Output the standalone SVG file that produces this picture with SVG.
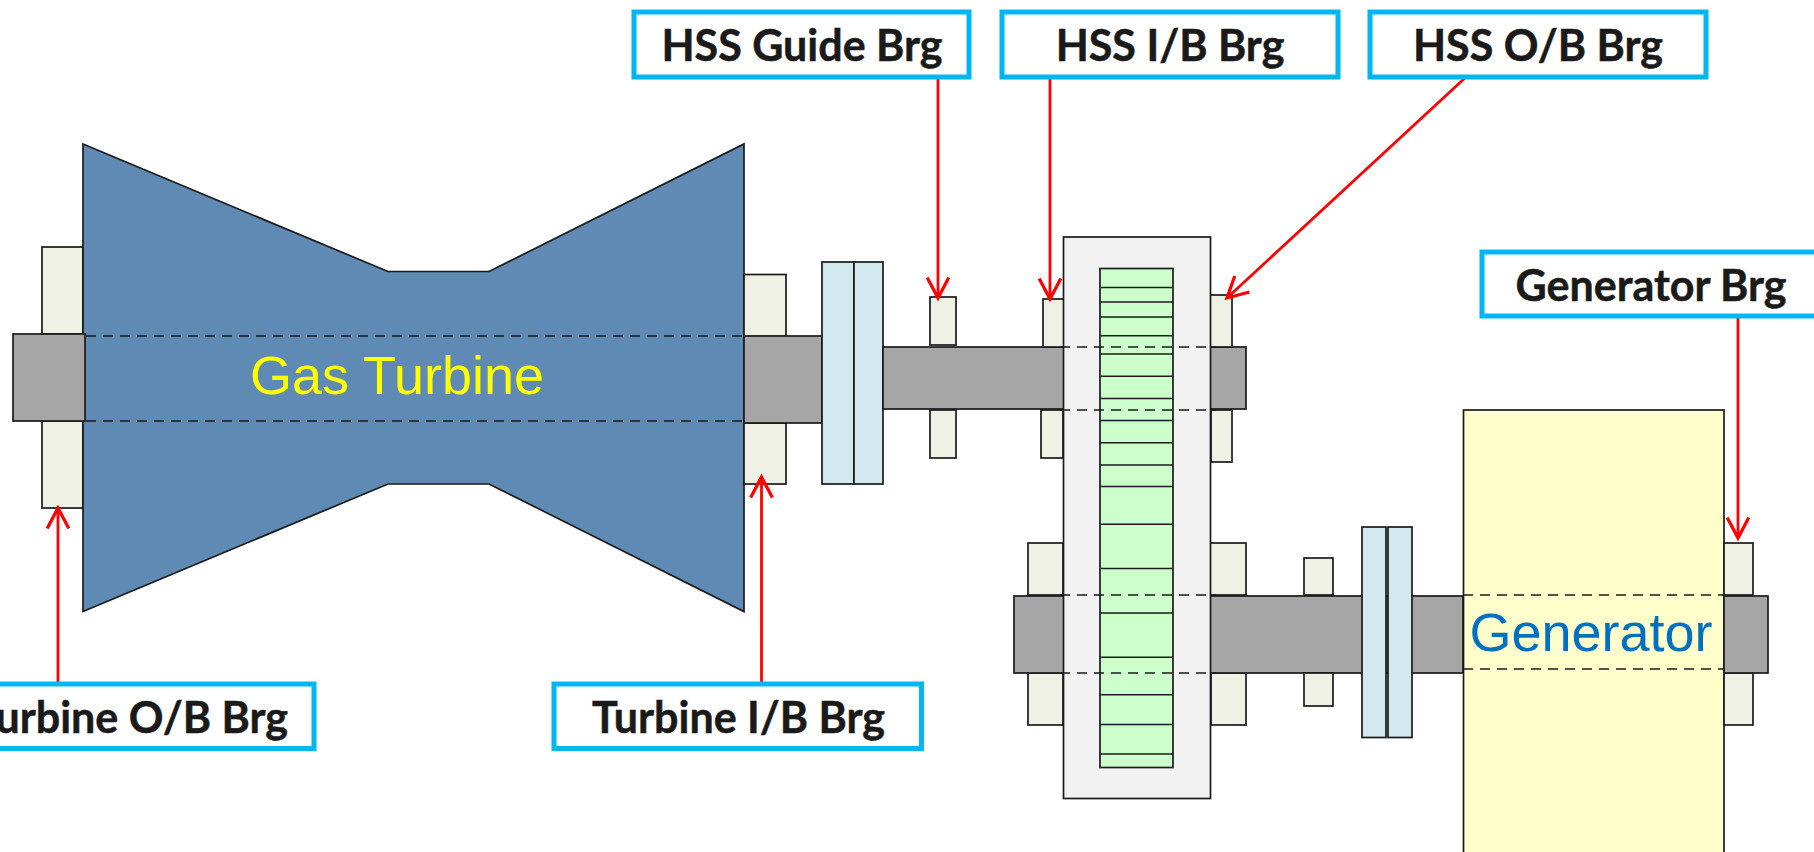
<svg xmlns="http://www.w3.org/2000/svg" width="1814" height="852" viewBox="0 0 1814 852">
<style>
.o{stroke:#1a1a1a;stroke-width:1.7}
.brg{fill:#EEF1E3}.shaft{fill:#A6A6A6}.cpl{fill:#D2E9EF}
.d{stroke:#1a1a1a;stroke-width:1.7;stroke-dasharray:10 7;fill:none}
.g{stroke:#1a1a1a;stroke-width:1.5}
.box{fill:#fff;stroke:#00B7F1;stroke-width:5}
.lbl{font-family:"Lato","Liberation Sans",sans-serif;font-weight:700;font-size:43px;fill:#1a1a1a;stroke:#1a1a1a;stroke-width:.5;text-anchor:middle}
.arr{stroke:#FF0000;stroke-width:2.8;fill:none;marker-end:url(#v)}
</style>
<defs>
<marker id="v" markerUnits="userSpaceOnUse" markerWidth="26" markerHeight="26" refX="21" refY="12" orient="auto" viewBox="0 0 24 24"><path d="M2 2L21 12L2 22" fill="none" stroke="#FF0000" stroke-width="3"/></marker>
</defs>
<rect width="1814" height="852" fill="#fff"/>

<g id="turbine-ob-bearing">
<rect class="o brg" x="42" y="247" width="41" height="87"/>
<rect class="o brg" x="42" y="421" width="41" height="87"/>
</g>
<g id="gas-turbine">
<polygon class="o" fill="#5F8AB3" points="83,144 388,271.500 489,271.500 744,144 744,611.500 489,484 388,484 83,611.500"/>
<path class="d" d="M86 336H744M86 421H744"/>
<text x="397" y="394" font-family="'Liberation Sans',Arial,sans-serif" font-size="54" fill="#FFFF00" text-anchor="middle">Gas Turbine</text>
</g>
<g id="turbine-ob-shaft"><rect class="o shaft" x="13" y="334" width="72" height="87"/></g>

<g id="turbine-ib-bearing">
<rect class="o brg" x="744" y="274.500" width="42" height="62"/>
<rect class="o brg" x="744" y="423" width="42" height="61"/>
</g>
<g id="turbine-shaft"><rect class="o shaft" x="744" y="336" width="78" height="87"/></g>
<g id="turbine-coupling">
<rect class="o cpl" x="822" y="262" width="32" height="222"/>
<rect class="o cpl" x="854" y="262" width="29" height="222"/>
</g>

<g id="hss-shaft"><rect class="o shaft" x="883" y="347" width="363" height="62"/></g>
<g id="hss-guide-bearing">
<rect class="o brg" x="930" y="297" width="26" height="48"/>
<rect class="o brg" x="930" y="410" width="26" height="48"/>
</g>
<g id="hss-ib-bearing">
<rect class="o brg" x="1043" y="299" width="21" height="48"/>
<rect class="o brg" x="1041" y="410" width="22" height="48"/>
</g>
<g id="hss-ob-bearing">
<rect class="o brg" x="1210" y="295" width="22" height="52"/>
<rect class="o brg" x="1211" y="410" width="21" height="52"/>
</g>

<g id="gear-bearings">
<rect class="o brg" x="1028" y="543" width="35" height="52"/>
<rect class="o brg" x="1028" y="673" width="35" height="52"/>
<rect class="o brg" x="1210" y="543" width="36" height="52"/>
<rect class="o brg" x="1211" y="673" width="35" height="52"/>
</g>
<g id="lss-shaft"><rect class="o shaft" x="1014" y="596" width="449" height="77"/></g>
<g id="lss-bearing">
<rect class="o brg" x="1304" y="558" width="29" height="37"/>
<rect class="o brg" x="1304" y="673" width="29" height="33"/>
</g>
<g id="generator-coupling">
<rect class="o cpl" x="1362" y="527" width="24" height="210.500"/>
<rect class="o cpl" x="1388" y="527" width="24" height="210.500"/>
</g>

<g id="gearbox">
<rect class="o" fill="#F2F2F2" x="1063.500" y="237" width="147" height="561.500"/>
<rect class="o" fill="#CCFFCC" x="1100" y="268.500" width="73" height="499"/>
<path class="g" d="M1100 287.500H1173M1100 302H1173M1100 317H1173M1100 335.700H1173M1100 354H1173M1100 376.200H1173M1100 398.400H1173M1100 420.600H1173M1100 442.800H1173M1100 465H1173M1100 486.500H1173M1100 524.200H1173M1100 568.600H1173M1100 613H1173M1100 657.300H1173M1100 694.800H1173M1100 724.600H1173M1100 754H1173"/>
<path class="d" d="M1060 347H1216M1060 410H1216M1060 595H1216M1060 673H1216"/>
</g>

<g id="generator">
<rect class="o" fill="#FFFFCC" x="1463.500" y="410" width="260.500" height="460"/>
<path class="d" d="M1463 595H1724M1463 669H1724"/>
<text x="1591" y="651" font-family="'Liberation Sans',Arial,sans-serif" font-size="54" fill="#0070C0" text-anchor="middle">Generator</text>
</g>
<g id="generator-bearing">
<rect class="o brg" x="1724" y="543" width="29" height="52"/>
<rect class="o brg" x="1724" y="673" width="29" height="52"/>
<rect class="o shaft" x="1724" y="596" width="44" height="77"/>
</g>

<g id="connectors">
<line class="arr" x1="938" y1="77" x2="938" y2="298"/>
<line class="arr" x1="1050" y1="77" x2="1050" y2="299"/>
<line class="arr" x1="1466" y1="77" x2="1227" y2="298"/>
<line class="arr" x1="1738" y1="316" x2="1738" y2="538"/>
<line class="arr" x1="58" y1="684" x2="58" y2="508"/>
<line class="arr" x1="761.500" y1="684" x2="761.500" y2="477"/>
</g>

<g id="label-guide"><rect class="box" x="634" y="12" width="335" height="65"/><text class="lbl" x="802" y="61">HSS Guide Brg</text></g>
<g id="label-ib"><rect class="box" x="1002" y="12" width="336" height="65"/><text class="lbl" x="1170" y="61">HSS I/B Brg</text></g>
<g id="label-ob"><rect class="box" x="1370" y="12" width="336" height="65"/><text class="lbl" x="1538" y="61">HSS O/B Brg</text></g>
<g id="label-gen"><rect class="box" x="1482" y="252" width="340" height="64"/><text class="lbl" x="1651" y="301">Generator Brg</text></g>
<g id="label-tob"><rect class="box" x="-40" y="684" width="354" height="64.500"/><text class="lbl" x="288" y="733" style="text-anchor:end">Turbine O/B Brg</text></g>
<g id="label-tib"><rect class="box" x="554" y="684" width="367.500" height="64.500"/><text class="lbl" x="738.500" y="733">Turbine I/B Brg</text></g>
</svg>
